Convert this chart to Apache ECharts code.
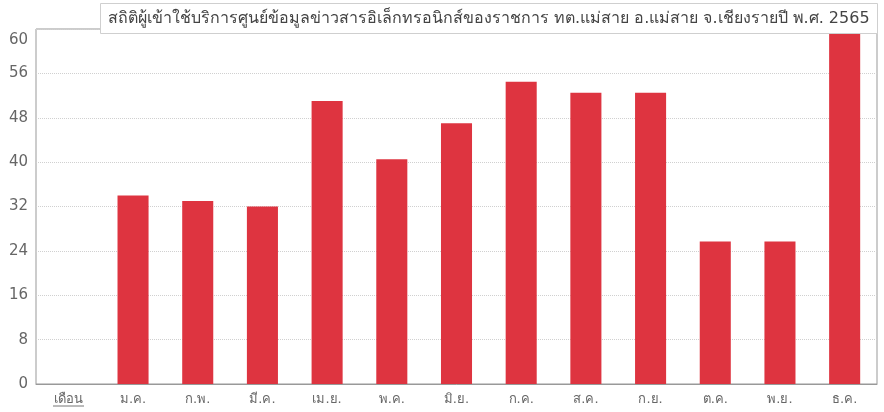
<!DOCTYPE html>
<html>
<head>
<meta charset="utf-8">
<script src="https://cdn.jsdelivr.net/npm/echarts@6/dist/echarts.min.js"></script>
<style>
  html, body { margin: 0; padding: 0; background: #fff; }
  #tu1 { width: 884px; height: 412px; }
</style>
</head>
<body>
<div id="tu1"></div>
<script>
// ข้อมูลรายเดือน
var months = ['เดือน', 'ม.ค.', 'ก.พ.', 'มี.ค.', 'เม.ย.', 'พ.ค.', 'มิ.ย.', 'ก.ค.', 'ส.ค.', 'ก.ย.', 'ต.ค.', 'พ.ย.', 'ธ.ค.'];
var visitors = [null, 34, 33, 32, 51, 40.5, 47, 54.5, 52.5, 52.5, 25.7, 25.7, 64];
var yTickLabels = ['0', '8', '16', '24', '32', '40', '48', '56', '60'];
var titleText = 'สถิติผู้เข้าใช้บริการศูนย์ข้อมูลข่าวสารอิเล็กทรอนิกส์ของราชการ ทต.แม่สาย อ.แม่สาย จ.เชียงรายปี พ.ศ. 2565';

var font = 'Tahoma, "DejaVu Sans", "Noto Sans", sans-serif';

var myChart1 = echarts.init(document.getElementById('tu1'));

var option1 = {
    animation: false,
    textStyle: { fontFamily: font },
    title: {
        text: titleText,
        left: 100,
        top: 3,
        padding: [8, 8, 7, 8],
        borderWidth: 1,
        borderColor: '#cfcfcf',
        backgroundColor: '#fff',
        textStyle: {
            fontFamily: font,
            fontSize: 16,
            fontWeight: 'normal',
            color: '#444'
        }
    },
    grid: {
        left: 36,
        right: 7,
        top: 29,
        bottom: 28,
        show: true,
        borderColor: '#999',
        borderWidth: 1
    },
    xAxis: {
        type: 'category',
        data: months,
        axisTick: { show: false },
        axisLine: { lineStyle: { color: '#999', width: 1 } },
        axisLabel: {
            color: '#666',
            fontSize: 13,
            margin: 9,
            fontFamily: font
        }
    },
    yAxis: {
        type: 'value',
        min: 0,
        max: 64,
        interval: 8,
        axisLine: { show: false },
        axisTick: { show: false },
        splitLine: {
            lineStyle: { type: 'dotted', color: '#d0d0d0', width: 1 }
        },
        axisLabel: {
            color: '#666',
            fontSize: 15,
            margin: 8,
            fontFamily: font,
            formatter: function (v) {
                var i = Math.round(v / 8);
                if (i === yTickLabels.length - 1) {
                    return '{top|' + yTickLabels[i] + '}';
                }
                return yTickLabels[i];
            },
            rich: {
                top: { fontSize: 15, color: '#666', padding: [22, 0, 0, 0] }
            }
        }
    },
    graphic: [{
        // เส้นใต้คำว่า เดือน
        type: 'line',
        shape: { x1: 53, y1: 406, x2: 84, y2: 406 },
        style: { stroke: '#777', lineWidth: 1 }
    }],
    series: [{
        type: 'bar',
        data: visitors,
        barWidth: '48%',
        itemStyle: { color: '#DE3440' }
    }]
};

myChart1.setOption(option1);
</script>
</body>
</html>
